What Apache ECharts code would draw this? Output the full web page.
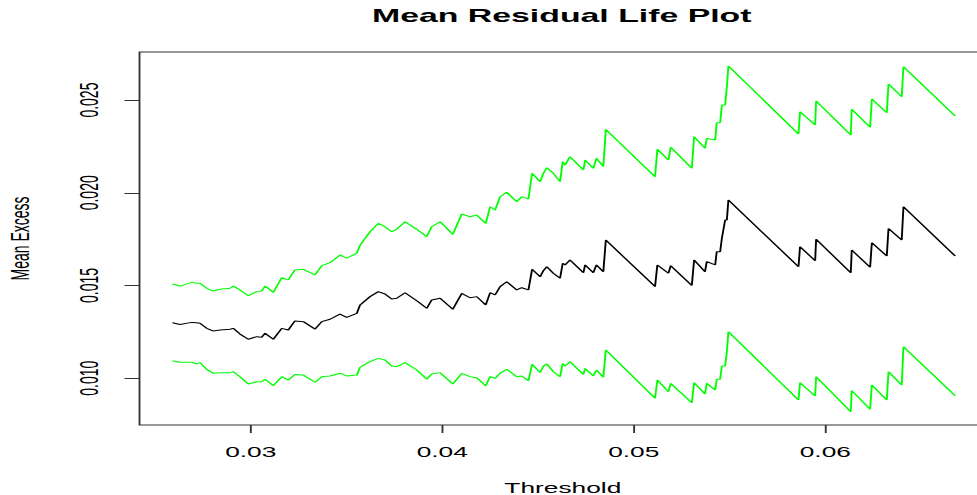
<!DOCTYPE html>
<html>
<head>
<meta charset="utf-8">
<script src="https://cdn.jsdelivr.net/npm/echarts@6/dist/echarts.min.js"></script>
<style>
  html, body { margin: 0; padding: 0; background: #fff; overflow: hidden; width: 977px; height: 495px; }
  #main { width: 520px; height: 495px; transform: scaleX(1.87885); transform-origin: 0 0; overflow: hidden; }
</style>
</head>
<body>
<div id="main"></div>
<script>
// Threshold values (x)
const thresholds = [0.02591, 0.02631, 0.02692, 0.02718, 0.02735, 0.02770, 0.02803, 0.02840, 0.02892, 0.02909,
  0.02944, 0.02987, 0.03031, 0.03057, 0.03075, 0.03118, 0.03162, 0.03196, 0.03231, 0.03275,
  0.03336, 0.03371, 0.03414, 0.03466, 0.03501, 0.03554, 0.03571, 0.03623, 0.03666, 0.03701,
  0.03736, 0.03762, 0.03806, 0.03867, 0.03919, 0.03945, 0.03989, 0.04055, 0.04102, 0.04145,
  0.04180, 0.04227, 0.04250, 0.04276, 0.04302, 0.04337, 0.04389, 0.04415, 0.04450, 0.04469,
  0.04511, 0.04528, 0.04546, 0.04580, 0.04615, 0.04629, 0.04641, 0.04667, 0.04737, 0.04746,
  0.04789, 0.04805, 0.04841, 0.04854, 0.05111, 0.05123, 0.05181, 0.05193, 0.05303, 0.05315,
  0.05372, 0.05381, 0.05425, 0.05433, 0.05451, 0.05460, 0.05477, 0.05486, 0.05494, 0.05860,
  0.05868, 0.05947, 0.05952, 0.06133, 0.06138, 0.06234, 0.06243, 0.06321, 0.06330, 0.06399,
  0.06408, 0.06678];

// Mean excess (black)
const meanExcess = [0.01299, 0.01290, 0.01301, 0.01299, 0.01296, 0.01269, 0.01255, 0.01260, 0.01264, 0.01269,
  0.01238, 0.01210, 0.01224, 0.01221, 0.01242, 0.01210, 0.01269, 0.01260, 0.01309, 0.01305,
  0.01265, 0.01305, 0.01318, 0.01346, 0.01328, 0.01350, 0.01395, 0.01440, 0.01467, 0.01454,
  0.01427, 0.01431, 0.01461, 0.01418, 0.01377, 0.01422, 0.01431, 0.01372, 0.01458, 0.01434,
  0.01440, 0.01395, 0.01461, 0.01449, 0.01494, 0.01520, 0.01476, 0.01488, 0.01476, 0.01587,
  0.01547, 0.01580, 0.01601, 0.01566, 0.01539, 0.01620, 0.01611, 0.01638, 0.01569, 0.01611,
  0.01569, 0.01611, 0.01574, 0.01745, 0.01494, 0.01611, 0.01566, 0.01607, 0.01500, 0.01638,
  0.01574, 0.01629, 0.01611, 0.01682, 0.01682, 0.01755, 0.01853, 0.01853, 0.01961, 0.01601,
  0.01709, 0.01634, 0.01749, 0.01569, 0.01691, 0.01598, 0.01731, 0.01659, 0.01808, 0.01745,
  0.01925, 0.01659];

// Upper confidence bound (green)
const upperCI = [0.01508, 0.01497, 0.01517, 0.01512, 0.01512, 0.01485, 0.01470, 0.01480, 0.01485, 0.01497,
  0.01476, 0.01445, 0.01467, 0.01470, 0.01497, 0.01463, 0.01542, 0.01530, 0.01584, 0.01587,
  0.01557, 0.01607, 0.01623, 0.01665, 0.01647, 0.01674, 0.01718, 0.01790, 0.01835, 0.01817,
  0.01790, 0.01803, 0.01844, 0.01803, 0.01763, 0.01817, 0.01844, 0.01776, 0.01886, 0.01871,
  0.01880, 0.01835, 0.01925, 0.01907, 0.01979, 0.02003, 0.01952, 0.01979, 0.01967, 0.02105,
  0.02060, 0.02105, 0.02135, 0.02105, 0.02060, 0.02168, 0.02150, 0.02195, 0.02123, 0.02177,
  0.02132, 0.02186, 0.02141, 0.02342, 0.02087, 0.02235, 0.02177, 0.02246, 0.02132, 0.02302,
  0.02240, 0.02293, 0.02285, 0.02378, 0.02378, 0.02474, 0.02474, 0.02572, 0.02684, 0.02317,
  0.02437, 0.02366, 0.02495, 0.02312, 0.02451, 0.02353, 0.02506, 0.02432, 0.02587, 0.02518,
  0.02680, 0.02414];

// Lower confidence bound (green)
const lowerCI = [0.01094, 0.01086, 0.01086, 0.01077, 0.01084, 0.01048, 0.01027, 0.01030, 0.01030, 0.01035,
  0.01008, 0.00969, 0.00981, 0.00981, 0.00994, 0.00960, 0.01008, 0.00990, 0.01020, 0.01017,
  0.00978, 0.01008, 0.01012, 0.01027, 0.01012, 0.01017, 0.01059, 0.01089, 0.01107, 0.01098,
  0.01066, 0.01062, 0.01084, 0.01044, 0.00994, 0.01023, 0.01030, 0.00969, 0.01026, 0.01008,
  0.01003, 0.00958, 0.01008, 0.01000, 0.01027, 0.01048, 0.01008, 0.01012, 0.00987, 0.01075,
  0.01030, 0.01065, 0.01077, 0.01035, 0.01008, 0.01080, 0.01066, 0.01089, 0.01020, 0.01053,
  0.01012, 0.01044, 0.01005, 0.01152, 0.00892, 0.00990, 0.00927, 0.00972, 0.00868, 0.00976,
  0.00915, 0.00972, 0.00936, 0.00994, 0.00994, 0.01066, 0.01066, 0.01143, 0.01251, 0.00882,
  0.00976, 0.00904, 0.01008, 0.00819, 0.00933, 0.00832, 0.00963, 0.00882, 0.01035, 0.00963,
  0.01170, 0.00906];

const xTicks = [0.03, 0.04, 0.05, 0.06];
const yTicks = [0.010, 0.015, 0.020, 0.025];

const pairs = arr => thresholds.map((x, i) => [x, arr[i]]);
const FONT = 'Liberation Sans, Arial, Helvetica, sans-serif';

const chart = echarts.init(document.getElementById('main'), null, { renderer: 'svg' });
chart.setOption({
  animation: false,
  backgroundColor: '#ffffff',
  title: {
    text: 'Mean Residual Life Plot',
    left: 299,
    top: 7,
    padding: 0,
    textAlign: 'center',
    textStyle: { fontFamily: FONT, fontWeight: 'bold', fontSize: 18, color: '#000' }
  },
  grid: {
    left: 74.25, top: 52, width: 450.6, height: 373,
    outerBoundsMode: 'none', containLabel: false,
    show: true, borderColor: '#333', borderWidth: 1, backgroundColor: 'transparent'
  },
  xAxis: {
    type: 'value',
    min: 0.024193, max: 0.068396,
    name: 'Threshold', nameLocation: 'middle', nameGap: 56,
    nameTextStyle: { fontFamily: FONT, fontSize: 14, color: '#000' },
    axisLine: { show: false },
    splitLine: { show: false },
    axisTick: { show: true, customValues: xTicks, length: 8, lineStyle: { color: '#333', width: 1 } },
    axisLabel: { customValues: xTicks, margin: 20, fontFamily: FONT, fontSize: 14, color: '#000',
      formatter: v => v.toFixed(2) }
  },
  yAxis: {
    type: 'value',
    min: 0.007476, max: 0.027594,
    name: 'Mean Excess', nameLocation: 'middle', nameGap: 57,
    nameTextStyle: { fontFamily: FONT, fontSize: 14, color: '#000' },
    axisLine: { show: false },
    splitLine: { show: false },
    axisTick: { show: true, customValues: yTicks, length: 8, lineStyle: { color: '#333', width: 1 } },
    axisLabel: { customValues: yTicks, rotate: 90, margin: 20, fontFamily: FONT, fontSize: 14, color: '#000',
      formatter: v => v.toFixed(3) }
  },
  series: [
    { type: 'line', name: 'Mean Excess', data: pairs(meanExcess), showSymbol: false, symbol: 'none',
      lineStyle: { color: '#000000', width: 1 }, z: 3 },
    { type: 'line', name: 'Upper', data: pairs(upperCI), showSymbol: false, symbol: 'none',
      lineStyle: { color: '#00ff00', width: 1 }, z: 2 },
    { type: 'line', name: 'Lower', data: pairs(lowerCI), showSymbol: false, symbol: 'none',
      lineStyle: { color: '#00ff00', width: 1 }, z: 2 }
  ]
});
</script>
</body>
</html>
